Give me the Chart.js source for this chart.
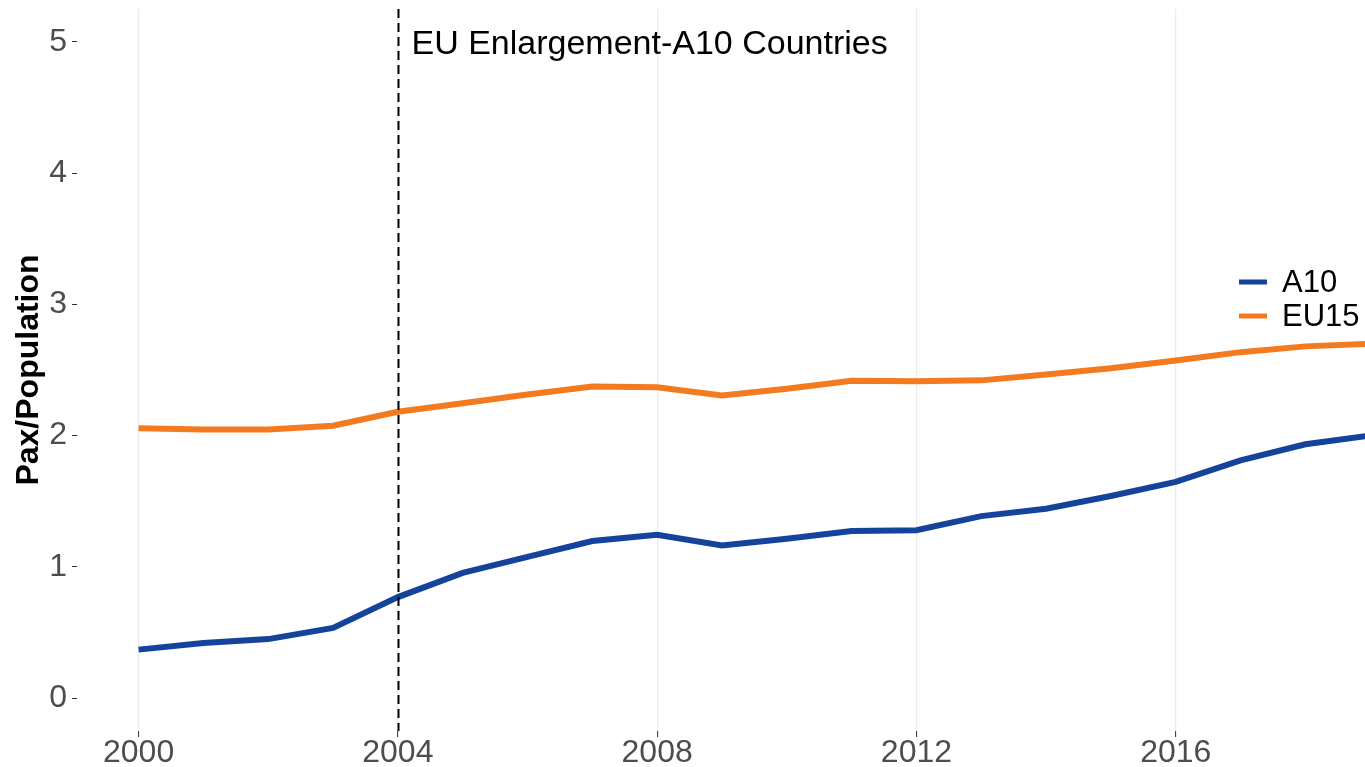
<!DOCTYPE html>
<html>
<head>
<meta charset="utf-8">
<script src="https://cdn.jsdelivr.net/npm/chart.js@4"></script>
<style>
  html, body { margin: 0; padding: 0; background: #fff; overflow: hidden; }
  #paxChart { display: block; }
</style>
</head>
<body>
<canvas id="paxChart" width="1365" height="767"></canvas>
<script>
// Données
const years = [2000, 2001, 2002, 2003, 2004, 2005, 2006, 2007, 2008, 2009,
               2010, 2011, 2012, 2013, 2014, 2015, 2016, 2017, 2018, 2019];
const a10Values = [0.37, 0.42, 0.45, 0.535, 0.77, 0.955, 1.077, 1.197, 1.245, 1.163,
                   1.215, 1.273, 1.28, 1.387, 1.443, 1.54, 1.648, 1.812, 1.934, 2.0];
const eu15Values = [2.057, 2.046, 2.046, 2.075, 2.182, 2.246, 2.313, 2.375, 2.368, 2.306,
                    2.357, 2.418, 2.414, 2.421, 2.465, 2.514, 2.572, 2.636, 2.68, 2.70];
const seriesNames = ['A10', 'EU15'];
const seriesColors = ['#15439B', '#F47A20'];
const xTickLabels = [2000, 2004, 2008, 2012, 2016];
const yTickLabels = [0, 1, 2, 3, 4, 5];
const eventYear = 2004;
const eventLabel = 'EU Enlargement-A10 Countries';
const yTitle = 'Pax/Population';

const FONT = "'Liberation Sans', Arial, Helvetica, sans-serif";

// Ligne verticale pointillée + texte de l'évènement
const eventLinePlugin = {
    id: 'eventLine',
    afterDatasetsDraw(chart) {
        const ctx = chart.ctx;
        const area = chart.chartArea;
        const x = Math.round(chart.scales.x.getPixelForValue(eventYear)) + 0.5;
        ctx.save();
        ctx.strokeStyle = '#000';
        ctx.lineWidth = 2;
        ctx.setLineDash([9, 5]);
        ctx.beginPath();
        ctx.moveTo(x, area.top);
        ctx.lineTo(x, area.bottom);
        ctx.stroke();
        ctx.setLineDash([]);
        ctx.fillStyle = '#000';
        ctx.font = '34px ' + FONT;
        ctx.textAlign = 'left';
        ctx.textBaseline = 'middle';
        ctx.fillText(eventLabel, x + 13, chart.scales.y.getPixelForValue(5) + 3);
        ctx.restore();
    }
};

// Légende à droite (style ggplot)
const sideLegendPlugin = {
    id: 'sideLegend',
    afterDraw(chart) {
        const ctx = chart.ctx;
        ctx.save();
        ctx.font = '31px ' + FONT;
        ctx.textBaseline = 'middle';
        ctx.textAlign = 'left';
        chart.data.datasets.forEach((ds, i) => {
            const y = 282 + i * 34;
            ctx.strokeStyle = ds.borderColor;
            ctx.lineWidth = 5;
            ctx.beginPath();
            ctx.moveTo(1239, y);
            ctx.lineTo(1267, y);
            ctx.stroke();
            ctx.fillStyle = '#000';
            ctx.fillText(ds.label, 1282, y + 1);
        });
        ctx.restore();
    }
};

const ctx = document.getElementById('paxChart').getContext('2d');
const chart = new Chart(ctx, {
    type: 'line',
    data: {
        datasets: [
            {
                label: seriesNames[0],
                data: years.map((y, i) => ({ x: y, y: a10Values[i] })),
                borderColor: seriesColors[0],
                backgroundColor: seriesColors[0],
                borderWidth: 6,
                pointRadius: 0,
                tension: 0
            },
            {
                label: seriesNames[1],
                data: years.map((y, i) => ({ x: y, y: eu15Values[i] })),
                borderColor: seriesColors[1],
                backgroundColor: seriesColors[1],
                borderWidth: 6,
                pointRadius: 0,
                tension: 0
            }
        ]
    },
    options: {
        responsive: false,
        animation: false,
        devicePixelRatio: 1,
        layout: { padding: { top: 9, right: 0, left: 0, bottom: 0 } },
        plugins: {
            legend: { display: false },
            tooltip: { enabled: false }
        },
        scales: {
            x: {
                type: 'linear',
                min: 1999.05,
                max: 2018.92,
                afterBuildTicks(scale) {
                    scale.ticks = xTickLabels.map(v => ({ value: v }));
                },
                afterFit(scale) {
                    scale.height = 36;
                    scale.paddingLeft = 0;
                    scale.paddingRight = 0;
                },
                grid: {
                    color: '#ebebeb',
                    lineWidth: 1.2,
                    drawTicks: true,
                    tickLength: 6,
                    tickColor: '#333333',
                    tickWidth: 1
                },
                border: { display: false },
                ticks: {
                    color: '#4d4d4d',
                    font: { family: FONT, size: 32 },
                    padding: -3,
                    maxRotation: 0,
                    autoSkip: false,
                    callback: v => String(v)
                }
            },
            y: {
                min: -0.25,
                max: 5.25,
                afterBuildTicks(scale) {
                    scale.ticks = yTickLabels.map(v => ({ value: v }));
                },
                afterFit(scale) {
                    scale.width = 77;
                    scale.paddingTop = 0;
                    scale.paddingBottom = 0;
                },
                grid: {
                    drawOnChartArea: false,
                    drawTicks: true,
                    tickLength: 5,
                    tickColor: '#333333',
                    tickWidth: 1
                },
                border: { display: false },
                ticks: {
                    color: '#4d4d4d',
                    font: { family: FONT, size: 32 },
                    padding: 5,
                    callback: v => String(v)
                },
                title: {
                    display: true,
                    text: yTitle,
                    color: '#000',
                    font: { family: FONT, size: 32, weight: 'bold' },
                    padding: { top: 10, bottom: 0 }
                }
            }
        }
    },
    plugins: [eventLinePlugin, sideLegendPlugin]
});
</script>
</body>
</html>
